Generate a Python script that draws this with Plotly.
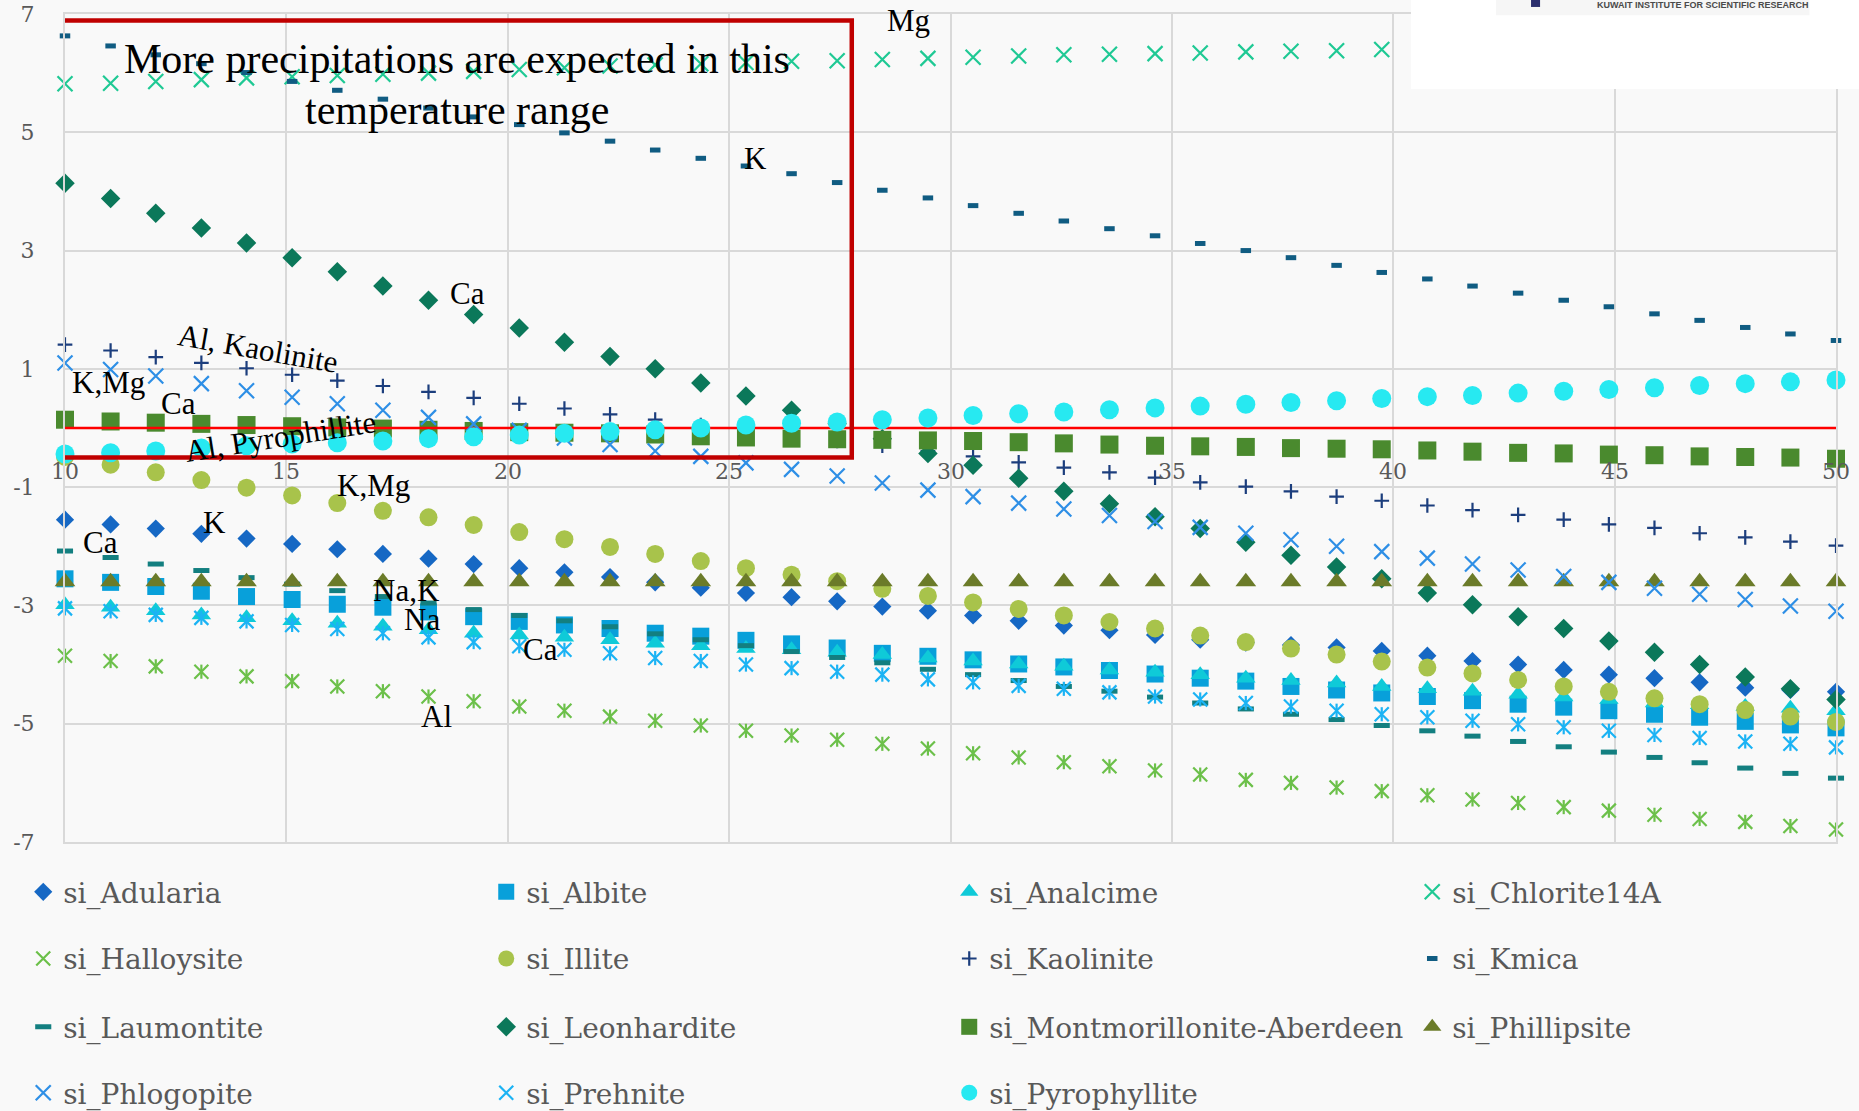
import plotly.graph_objects as go

# Temperature steps (40 evenly spaced points, 10 to 50)
temperature = [10.00, 11.03, 12.05, 13.08, 14.10, 15.13, 16.15, 17.18, 18.21, 19.23,
               20.26, 21.28, 22.31, 23.33, 24.36, 25.38, 26.41, 27.44, 28.46, 29.49,
               30.51, 31.54, 32.56, 33.59, 34.62, 35.64, 36.67, 37.69, 38.72, 39.74,
               40.77, 41.79, 42.82, 43.85, 44.87, 45.90, 46.92, 47.95, 48.97, 50.00]

si_Adularia = [-1.55, -1.63, -1.70, -1.79, -1.87, -1.96, -2.05, -2.13, -2.21, -2.30,
               -2.37, -2.44, -2.52, -2.61, -2.70, -2.79, -2.86, -2.93, -3.02, -3.09,
               -3.17, -3.26, -3.34, -3.42, -3.50, -3.58, -3.63, -3.67, -3.71, -3.77,
               -3.85, -3.94, -4.00, -4.09, -4.17, -4.23, -4.30, -4.39, -4.43, -4.46]
si_Albite = [-2.55, -2.61, -2.68, -2.76, -2.85, -2.90, -2.98, -3.03, -3.11, -3.19,
             -3.27, -3.33, -3.39, -3.47, -3.52, -3.59, -3.65, -3.72, -3.81, -3.86,
             -3.92, -3.99, -4.04, -4.10, -4.16, -4.23, -4.28, -4.37, -4.43, -4.48,
             -4.54, -4.61, -4.67, -4.72, -4.78, -4.84, -4.89, -4.96, -5.02, -5.07]
si_Analcime = [-2.99, -3.03, -3.09, -3.16, -3.21, -3.26, -3.30, -3.35, -3.41, -3.47,
               -3.50, -3.54, -3.58, -3.64, -3.68, -3.73, -3.75, -3.79, -3.83, -3.89,
               -3.94, -3.99, -4.03, -4.09, -4.13, -4.17, -4.23, -4.27, -4.31, -4.37,
               -4.41, -4.45, -4.50, -4.55, -4.59, -4.65, -4.68, -4.71, -4.74, -4.78]
# Only the first 30 Chlorite14A points are shown; the rest sit under the logo panel
si_Chlorite14A = [5.82, 5.83, 5.86, 5.89, 5.92, 5.94, 5.96, 5.98, 6.00, 6.03,
                  6.06, 6.09, 6.12, 6.14, 6.16, 6.18, 6.20, 6.21, 6.23, 6.25,
                  6.27, 6.29, 6.31, 6.32, 6.33, 6.34, 6.36, 6.37, 6.38, 6.40]
si_Halloysite = [-3.85, -3.94, -4.03, -4.12, -4.20, -4.28, -4.37, -4.45, -4.54, -4.62,
                 -4.71, -4.78, -4.88, -4.95, -5.03, -5.12, -5.20, -5.27, -5.34, -5.42,
                 -5.50, -5.57, -5.65, -5.72, -5.79, -5.86, -5.95, -6.00, -6.08, -6.14,
                 -6.21, -6.28, -6.34, -6.41, -6.47, -6.54, -6.61, -6.66, -6.73, -6.79]
si_Illite = [-0.49, -0.62, -0.75, -0.88, -1.01, -1.14, -1.27, -1.40, -1.51, -1.64,
             -1.76, -1.88, -2.01, -2.13, -2.25, -2.37, -2.48, -2.59, -2.72, -2.84,
             -2.95, -3.06, -3.17, -3.28, -3.39, -3.51, -3.62, -3.73, -3.83, -3.95,
             -4.05, -4.15, -4.26, -4.37, -4.46, -4.57, -4.67, -4.77, -4.88, -4.97]
si_Kaolinite = [1.41, 1.31, 1.20, 1.10, 1.01, 0.90, 0.80, 0.71, 0.61, 0.51,
                0.41, 0.33, 0.23, 0.14, 0.05, -0.04, -0.13, -0.22, -0.30, -0.39,
                -0.48, -0.58, -0.67, -0.75, -0.84, -0.92, -0.99, -1.07, -1.16, -1.23,
                -1.31, -1.39, -1.47, -1.55, -1.63, -1.69, -1.78, -1.85, -1.92, -1.99]
si_Kmica = [6.63, 6.46, 6.31, 6.16, 6.01, 5.86, 5.71, 5.56, 5.41, 5.26,
            5.13, 4.99, 4.85, 4.70, 4.56, 4.43, 4.30, 4.15, 4.02, 3.89,
            3.76, 3.63, 3.50, 3.37, 3.25, 3.12, 3.00, 2.88, 2.75, 2.63,
            2.52, 2.40, 2.28, 2.16, 2.05, 1.93, 1.82, 1.70, 1.59, 1.48]
si_Laumontite = [-2.08, -2.19, -2.30, -2.41, -2.53, -2.64, -2.75, -2.85, -2.96, -3.07,
                 -3.17, -3.26, -3.36, -3.48, -3.58, -3.68, -3.78, -3.88, -3.97, -4.08,
                 -4.17, -4.27, -4.37, -4.45, -4.55, -4.65, -4.75, -4.84, -4.93, -5.03,
                 -5.12, -5.21, -5.30, -5.39, -5.48, -5.57, -5.66, -5.75, -5.84, -5.92]
si_Leonhardite = [4.14, 3.88, 3.63, 3.38, 3.13, 2.88, 2.64, 2.40, 2.16, 1.92,
                  1.69, 1.45, 1.21, 1.00, 0.76, 0.54, 0.30, 0.07, -0.18, -0.43,
                  -0.63, -0.85, -1.07, -1.28, -1.50, -1.70, -1.93, -2.15, -2.35, -2.55,
                  -2.79, -2.99, -3.19, -3.39, -3.60, -3.79, -4.00, -4.21, -4.41, -4.59]
si_Montmorillonite = [0.14, 0.11, 0.09, 0.07, 0.05, 0.03, 0.01, -0.01, -0.03, -0.05,
                      -0.07, -0.08, -0.09, -0.11, -0.14, -0.16, -0.18, -0.19, -0.20, -0.21,
                      -0.22, -0.24, -0.26, -0.28, -0.30, -0.31, -0.32, -0.34, -0.35, -0.36,
                      -0.38, -0.40, -0.42, -0.43, -0.45, -0.46, -0.48, -0.49, -0.50, -0.52]
si_Phillipsite = [-2.60, -2.60, -2.60, -2.60, -2.60, -2.60, -2.60, -2.60, -2.60, -2.60,
                  -2.60, -2.60, -2.60, -2.60, -2.60, -2.60, -2.60, -2.60, -2.60, -2.60,
                  -2.60, -2.60, -2.60, -2.60, -2.60, -2.60, -2.60, -2.60, -2.60, -2.60,
                  -2.60, -2.60, -2.60, -2.60, -2.60, -2.60, -2.60, -2.60, -2.60, -2.60]
si_Phlogopite = [1.10, 0.99, 0.88, 0.75, 0.63, 0.52, 0.41, 0.30, 0.18, 0.07,
                 -0.04, -0.17, -0.28, -0.39, -0.48, -0.59, -0.70, -0.81, -0.93, -1.05,
                 -1.16, -1.27, -1.37, -1.48, -1.58, -1.68, -1.78, -1.89, -2.00, -2.09,
                 -2.20, -2.30, -2.40, -2.51, -2.61, -2.71, -2.81, -2.90, -3.01, -3.10]
si_Prehnite = [-3.05, -3.10, -3.16, -3.21, -3.27, -3.33, -3.40, -3.47, -3.54, -3.62,
               -3.69, -3.75, -3.81, -3.89, -3.94, -4.00, -4.06, -4.12, -4.17, -4.25,
               -4.30, -4.36, -4.41, -4.47, -4.54, -4.59, -4.65, -4.71, -4.78, -4.84,
               -4.89, -4.95, -5.01, -5.06, -5.12, -5.19, -5.24, -5.30, -5.34, -5.40]
si_Pyrophyllite = [-0.44, -0.42, -0.39, -0.34, -0.30, -0.27, -0.25, -0.22, -0.18, -0.15,
                   -0.12, -0.09, -0.06, -0.03, 0.00, 0.05, 0.08, 0.10, 0.14, 0.17,
                   0.21, 0.24, 0.27, 0.31, 0.34, 0.37, 0.40, 0.43, 0.46, 0.50,
                   0.53, 0.55, 0.59, 0.62, 0.65, 0.68, 0.72, 0.75, 0.78, 0.81]

saturation_threshold = 0.0

x_tick_labels = ["10", "15", "20", "25", "30", "35", "40", "45", "50"]
y_tick_values = [-7, -5, -3, -1, 1, 3, 5, 7]
y_tick_labels = ["-7", "-5", "-3", "-1", "1", "3", "5", "7"]

# name, values, marker symbol, colour, size, line width, star overlay, legend row
series = [
    ("si_Adularia", si_Adularia, "diamond", "#1668c4", 14, 0, False, "legend"),
    ("si_Albite", si_Albite, "square", "#08a0da", 17, 0, False, "legend"),
    ("si_Analcime", si_Analcime, "triangle-up", "#0fcad8", 17, 0, False, "legend"),
    ("si_Chlorite14A", si_Chlorite14A, "x-thin-open", "#1fc994", 15, 2.2, False, "legend"),
    ("si_Halloysite", si_Halloysite, "x-thin-open", "#6cc04a", 14, 2.2, True, "legend2"),
    ("si_Illite", si_Illite, "circle", "#a8c34b", 18, 0, False, "legend2"),
    ("si_Kaolinite", si_Kaolinite, "cross-thin-open", "#1c3e7d", 10.5, 2.2, False, "legend2"),
    ("si_Kmica", si_Kmica, "line-ew-open", "#105c82", 7.5, 5, False, "legend2"),
    ("si_Laumontite", si_Laumontite, "line-ew-open", "#137f80", 11.5, 5, False, "legend3"),
    ("si_Leonhardite", si_Leonhardite, "diamond", "#0b785a", 15, 0, False, "legend3"),
    ("si_Montmorillonite-Aberdeen", si_Montmorillonite, "square", "#4a8a2e", 18, 0, False, "legend3"),
    ("si_Phillipsite", si_Phillipsite, "triangle-up", "#6b7b29", 18, 0, False, "legend3"),
    ("si_Phlogopite", si_Phlogopite, "x-thin-open", "#2e8fe6", 15, 2.2, False, "legend4"),
    ("si_Prehnite", si_Prehnite, "x-thin-open", "#1bb3f4", 14, 2.2, True, "legend4"),
    ("si_Pyrophyllite", si_Pyrophyllite, "circle", "#27e9f1", 19, 0, False, "legend4"),
]
# entries in the last legend column get a narrower slot so each row fits on one line
last_column = {"si_Chlorite14A", "si_Kmica", "si_Phillipsite"}

fig = go.Figure()

for name, values, symbol, color, size, lw, star, legend_id in series:
    xs = temperature[:len(values)]
    if lw:
        marker = dict(symbol=symbol, size=size, color=color,
                      line=dict(color=color, width=lw))
    else:
        marker = dict(symbol=symbol, size=size, color=color, line=dict(width=0))
    extra = dict(legendwidth=300) if name in last_column else {}
    fig.add_trace(go.Scatter(x=xs, y=values, mode="markers", name=name,
                             marker=marker, legend=legend_id, cliponaxis=False, **extra))
    if star:
        # vertical stroke completing the star marker
        fig.add_trace(go.Scatter(x=xs, y=values, mode="markers", showlegend=False,
                                 hoverinfo="skip", cliponaxis=False,
                                 marker=dict(symbol="line-ns-open", size=size * 0.72,
                                             color=color, line=dict(color=color, width=lw))))
    if name == "si_Montmorillonite-Aberdeen":
        # saturation index = 0 reference line
        fig.add_trace(go.Scatter(x=[temperature[0], temperature[-1]],
                                 y=[saturation_threshold, saturation_threshold],
                                 mode="lines", showlegend=False, hoverinfo="skip",
                                 line=dict(color="#ff0000", width=2.5)))

serif = "Liberation Serif"
label_font = "DejaVu Serif"
grey = "#595959"
background = "#f9f9f9"

annotations = []
# x tick labels sit just above the -1 gridline
for lab in x_tick_labels:
    annotations.append(dict(x=float(lab), y=-0.74, xref="x", yref="y", text=lab,
                            showarrow=False, xanchor="center", yanchor="middle",
                            font=dict(family=label_font, size=22, color=grey)))

# element labels
element_labels = [
    ("Mg", 29.05, 6.89, 0), ("K", 25.6, 4.55, 0), ("Ca", 19.1, 2.28, 0),
    ("Al, Kaolinite", 14.35, 1.34, 10), ("K,Mg", 10.98, 0.77, 0),
    ("Ca", 12.57, 0.41, 0), ("Al, Pyrophillite", 14.86, -0.15, -9),
    ("K,Mg", 16.97, -0.97, 0), ("K", 13.37, -1.59, 0), ("Ca", 10.8, -1.94, 0),
    ("Na,K", 17.72, -2.74, 0), ("Na", 18.07, -3.23, 0), ("Ca", 20.75, -3.74, 0),
    ("Al", 18.4, -4.88, 0),
]
for text, x, y, ang in element_labels:
    annotations.append(dict(x=x, y=y, xref="x", yref="y", text=text, showarrow=False,
                            xanchor="center", yanchor="middle", textangle=ang,
                            font=dict(family=serif, size=31, color="#000000")))

annotations.append(dict(x=18.85, y=6.24, xref="x", yref="y",
                        text="More precipitations are expected in this",
                        showarrow=False, xanchor="center", yanchor="middle",
                        font=dict(family=serif, size=42, color="#000000")))
annotations.append(dict(x=18.85, y=5.38, xref="x", yref="y",
                        text="temperature range",
                        showarrow=False, xanchor="center", yanchor="middle",
                        font=dict(family=serif, size=42, color="#000000")))

# logo caption in the top-right panel
annotations.append(dict(x=0.925, y=1.0105, xref="paper", yref="paper",
                        text="<b>KUWAIT INSTITUTE FOR SCIENTIFIC RESEARCH</b>",
                        showarrow=False, xanchor="center", yanchor="middle",
                        font=dict(family="Liberation Sans", size=9, color="#4a4a4a")))

shapes = [
    # highlighted temperature range
    dict(type="rect", xref="x", yref="y", x0=9.85, x1=27.77, y0=-0.5, y1=6.89,
         line=dict(color="#c00000", width=4.5), fillcolor="rgba(0,0,0,0)", layer="above"),
    # logo panel
    dict(type="rect", xref="paper", yref="paper", x0=0.760, x1=1.02, y0=0.9094, y1=1.03,
         line=dict(width=0), fillcolor="#ffffff", layer="above"),
    dict(type="rect", xref="paper", yref="paper", x0=0.808, x1=0.985, y0=0.9985, y1=1.03,
         line=dict(width=0), fillcolor="#f6f6f6", layer="above"),
    dict(type="rect", xref="paper", yref="paper", x0=0.8278, x1=0.8329, y0=1.0085, y1=1.03,
         line=dict(width=0), fillcolor="#2b2f6e", layer="above"),
]

legend_common = dict(orientation="h", xref="container", yref="container",
                     xanchor="left", yanchor="middle", entrywidth=418,
                     entrywidthmode="pixels", itemsizing="trace",
                     bgcolor="rgba(0,0,0,0)", traceorder="normal",
                     font=dict(family=label_font, size=28, color=grey))
legend_rows = {"legend": 0.197, "legend2": 0.137, "legend3": 0.0755, "legend4": 0.0162}

fig.update_layout(
    width=1859, height=1111,
    margin=dict(l=65, r=23, t=14, b=269, autoexpand=False),
    paper_bgcolor=background, plot_bgcolor=background,
    xaxis=dict(range=[10, 50], tick0=10, dtick=5, showticklabels=False,
               showgrid=True, gridcolor="#d9d9d9", gridwidth=2, zeroline=False,
               showline=True, linecolor="#d9d9d9", linewidth=2, mirror=True, ticks=""),
    yaxis=dict(range=[-7, 7], tickvals=y_tick_values, ticktext=y_tick_labels,
               showgrid=True, gridcolor="#d9d9d9", gridwidth=2, zeroline=False,
               showline=True, linecolor="#d9d9d9", linewidth=2, mirror=True, ticks="",
               ticklabelstandoff=24,
               tickfont=dict(family=label_font, size=22, color=grey)),
    annotations=annotations,
    shapes=shapes,
    hovermode=False,
    **{k: dict(legend_common, x=0.0125, y=v) for k, v in legend_rows.items()},
)

fig.write_html("out.html", config={"displayModeBar": False})
